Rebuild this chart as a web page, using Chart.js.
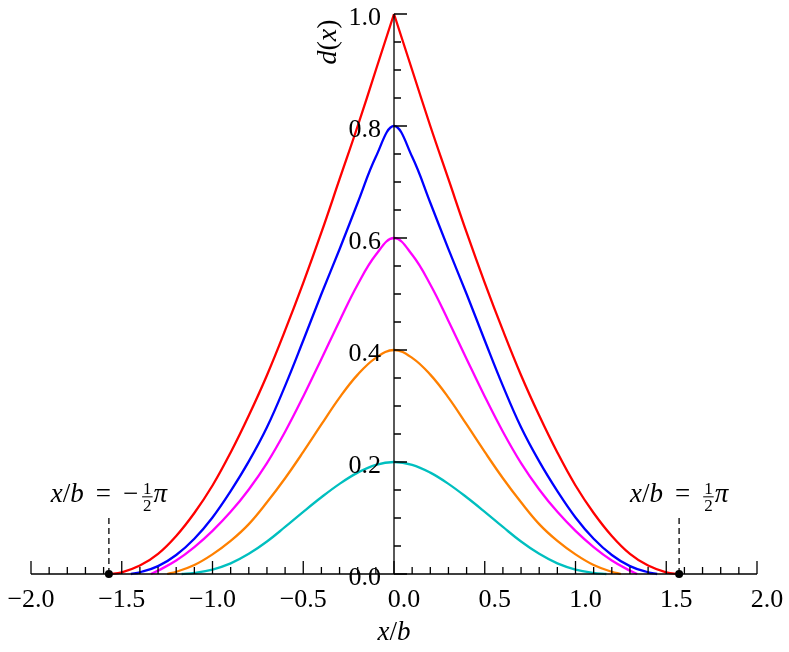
<!DOCTYPE html>
<html>
<head>
<meta charset="utf-8">
<title>d(x) profiles</title>
<script src="https://cdn.jsdelivr.net/npm/chart.js@4.4.0/dist/chart.umd.min.js"></script>
<style>
  html, body { margin: 0; padding: 0; background: #fff; }
  canvas { display: block; }
</style>
</head>
<body>
<canvas id="profileChart" width="789" height="652" style="width:789px;height:652px"></canvas>
<script>
const xGrid = [0, 0.1, 0.2, 0.3, 0.4, 0.5, 0.6, 0.7, 0.8, 0.9, 1.0, 1.1, 1.2, 1.3, 1.4, 1.5];

// d(x) values at xGrid, each curve is symmetric about x = 0
const redValues     = [1.0, 0.90, 0.80, 0.705, 0.61, 0.52, 0.435, 0.355, 0.283, 0.217, 0.158, 0.109, 0.068, 0.036, 0.015, 0.003];
const blueValues    = [0.80, 0.745, 0.663, 0.58, 0.50, 0.417, 0.336, 0.262, 0.201, 0.148, 0.101, 0.063, 0.034, 0.014, 0.003];
const magentaValues = [0.60, 0.57, 0.517, 0.452, 0.384, 0.317, 0.254, 0.198, 0.151, 0.111, 0.077, 0.048, 0.024, 0.006];
const orangeValues  = [0.40, 0.386, 0.356, 0.315, 0.267, 0.218, 0.171, 0.128, 0.089, 0.059, 0.035, 0.016, 0.004];
const cyanValues    = [0.20, 0.195, 0.181, 0.161, 0.137, 0.111, 0.084, 0.058, 0.036, 0.019, 0.008, 0.002];

// where each curve reaches zero
const curveEnds = [1.571, 1.45, 1.34, 1.25, 1.17];
const curveColors = ['#ff0000', '#0000ff', '#ff00ff', '#ff8000', '#00bfbf'];

const xTickValues = [-2, -1.5, -1, -0.5, 0, 0.5, 1, 1.5, 2];
const xTickLabels = ['\u22122.0', '\u22121.5', '\u22121.0', '\u22120.5', '0.0', '0.5', '1.0', '1.5', '2.0'];
const yTickValues = [0, 0.2, 0.4, 0.6, 0.8, 1.0];
const yTickLabels = ['0.0', '0.2', '0.4', '0.6', '0.8', '1.0'];

// x/b = -pi/2 and +pi/2 markers
const markerX = [-Math.PI / 2, Math.PI / 2];

const SERIF = '"Liberation Serif", "DejaVu Serif", serif';

function rightHalf(values, end) {
    const pts = values.map((v, i) => ({ x: xGrid[i], y: v }));
    pts.push({ x: end, y: 0 });
    return pts;
}

function mirror(pts) {
    return pts.slice().reverse().map(p => ({ x: -p.x, y: p.y }));
}

function lineSet(data, color) {
    return {
        data: data,
        showLine: true,
        borderColor: color,
        borderWidth: 2.3,
        pointRadius: 0,
        fill: false,
        clip: false,
        tension: 0.4
    };
}

function buildDatasets() {
    const all = [redValues, blueValues, magentaValues, orangeValues, cyanValues];
    const sets = [];
    all.forEach((vals, k) => {
        const right = rightHalf(vals, curveEnds[k]);
        if (k === 0) {
            // red has a sharp peak: draw both halves separately
            sets.push(lineSet(mirror(right), curveColors[k]));
            sets.push(lineSet(right, curveColors[k]));
        } else {
            sets.push(lineSet(mirror(right).concat(right.slice(1)), curveColors[k]));
        }
    });
    return sets;
}

// draws mixed italic / upright text with an optional small stacked fraction
function drawMath(ctx, parts, cx, baseline, size) {
    const fontUp = size + 'px ' + SERIF;
    const fontIt = 'italic ' + size + 'px ' + SERIF;
    const fontSmall = Math.round(size * 0.62) + 'px ' + SERIF;
    const widths = parts.map(p => {
        if (p.gap) return p.gap;
        if (p.frac) {
            ctx.font = fontSmall;
            return Math.max(ctx.measureText(p.frac[0]).width, ctx.measureText(p.frac[1]).width) + 4;
        }
        ctx.font = p.it ? fontIt : fontUp;
        return ctx.measureText(p.t).width;
    });
    let x = cx - widths.reduce((a, b) => a + b, 0) / 2;
    ctx.textBaseline = 'alphabetic';
    parts.forEach((p, i) => {
        if (p.frac) {
            ctx.font = fontSmall;
            ctx.textAlign = 'center';
            const mid = x + widths[i] / 2;
            ctx.fillText(p.frac[0], mid, baseline - size * 0.28);
            ctx.fillText(p.frac[1], mid, baseline + size * 0.32);
            ctx.fillRect(x + 1, baseline - size * 0.21, widths[i] - 2, 1);
        } else if (!p.gap) {
            ctx.font = p.it ? fontIt : fontUp;
            ctx.textAlign = 'left';
            ctx.fillText(p.t, x, baseline);
        }
        x += widths[i];
    });
}

const centredAxes = {
    id: 'centredAxes',
    afterDatasetsDraw(chart) {
        const ctx = chart.ctx;
        const xs = chart.scales.x, ys = chart.scales.y;
        const x0 = xs.getPixelForValue(0);
        const y0 = ys.getPixelForValue(0);
        ctx.save();
        ctx.strokeStyle = '#000';
        ctx.fillStyle = '#000';
        ctx.lineWidth = 1.3;

        // axis lines
        ctx.beginPath();
        ctx.moveTo(xs.getPixelForValue(-2), y0);
        ctx.lineTo(xs.getPixelForValue(2), y0);
        ctx.moveTo(x0, y0);
        ctx.lineTo(x0, ys.getPixelForValue(1));
        ctx.stroke();

        // ticks point inwards
        ctx.beginPath();
        for (let i = -20; i <= 20; i++) {
            const px = xs.getPixelForValue(i / 10);
            const len = i % 5 === 0 ? 13 : 7;
            ctx.moveTo(px, y0);
            ctx.lineTo(px, y0 - len);
        }
        for (let i = 0; i <= 20; i++) {
            const py = ys.getPixelForValue(i / 20);
            const len = i % 4 === 0 ? 13 : 7;
            ctx.moveTo(x0, py);
            ctx.lineTo(x0 + len, py);
        }
        ctx.stroke();

        // tick labels
        ctx.font = '26px ' + SERIF;
        ctx.textBaseline = 'alphabetic';
        ctx.textAlign = 'center';
        xTickValues.forEach((v, i) => {
            const shift = v < 0 ? 0 : 10; // phantom minus keeps labels aligned
            ctx.fillText(xTickLabels[i], xs.getPixelForValue(v) + shift, y0 + 33);
        });
        ctx.textAlign = 'right';
        yTickValues.forEach((v, i) => {
            ctx.fillText(yTickLabels[i], x0 - 13, ys.getPixelForValue(v) + 11);
        });

        // axis titles
        drawMath(ctx, [{ t: 'x', it: true }, { t: '/' }, { t: 'b', it: true }], x0, y0 + 66, 27);
        ctx.save();
        ctx.translate(x0 - 58, ys.getPixelForValue(0.95));
        ctx.rotate(-Math.PI / 2);
        drawMath(ctx, [{ t: 'd', it: true }, { t: '(' }, { t: 'x', it: true }, { t: ')' }], 0, 0, 28);
        ctx.restore();

        // pi/2 markers
        markerX.forEach(mx => {
            const px = xs.getPixelForValue(mx);
            const top = ys.getPixelForValue(0.1);
            ctx.setLineDash([6, 4]);
            ctx.lineWidth = 1.3;
            ctx.beginPath();
            ctx.moveTo(px, top);
            ctx.lineTo(px, y0);
            ctx.stroke();
            ctx.setLineDash([]);
            ctx.beginPath();
            ctx.arc(px, y0, 4, 0, Math.PI * 2);
            ctx.fill();
            const parts = [{ t: 'x', it: true }, { t: '/' }, { t: 'b', it: true }, { gap: 12 }, { t: '=' }, { gap: 12 }];
            if (mx < 0) parts.push({ t: '\u2212' }, { gap: 3 });
            parts.push({ frac: ['1', '2'] }, { t: '\u03c0', it: true });
            drawMath(ctx, parts, px, top - 16, 27);
        });
        ctx.restore();
    }
};

function initProfileChart() {
    const ctx = document.getElementById('profileChart').getContext('2d');
    new Chart(ctx, {
        type: 'scatter',
        data: { datasets: buildDatasets() },
        options: {
            responsive: false,
            devicePixelRatio: 1,
            animation: false,
            layout: { padding: { left: 31, right: 32, top: 14, bottom: 78 } },
            plugins: { legend: { display: false }, tooltip: { enabled: false } },
            scales: {
                x: { type: 'linear', min: -2, max: 2, display: false },
                y: { type: 'linear', min: 0, max: 1, display: false }
            }
        },
        plugins: [centredAxes]
    });
}

document.addEventListener('DOMContentLoaded', () => {
    const loads = ['26px', 'italic 27px'].map(f => document.fonts.load(f + ' "Liberation Serif"'));
    Promise.all(loads).catch(() => {}).then(initProfileChart);
});
</script>
</body>
</html>
